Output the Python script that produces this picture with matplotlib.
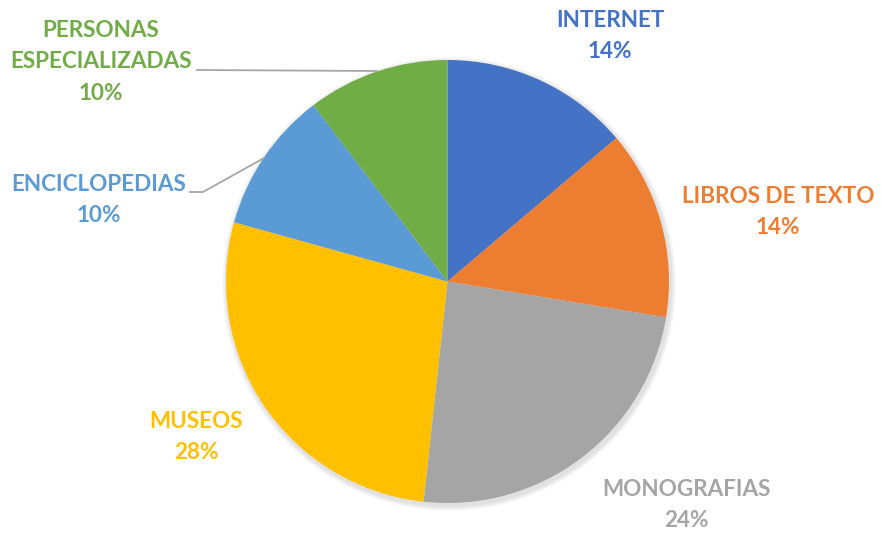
import matplotlib
matplotlib.use("Agg")
import matplotlib.pyplot as plt
from matplotlib.patches import Circle

categories = ["INTERNET", "LIBROS DE TEXTO", "MONOGRAFIAS", "MUSEOS",
              "ENCICLOPEDIAS", "PERSONAS\nESPECIALIZADAS"]
values = [4, 4, 7, 8, 3, 3]
colors = ["#4472C4", "#ED7D31", "#A5A5A5", "#FFC000", "#5B9BD5", "#70AD47"]

W, H = 881, 533
fig = plt.figure(figsize=(W / 100, H / 100), dpi=100)
ax = fig.add_axes([0, 0, 1, 1])

cx, cy, r = 447.5, H - 281.5, 221.5

# soft shadow
for k in range(6):
    ax.add_patch(Circle((cx + 1.5, cy - 2.5), r + 1.5 + k * 0.8,
                        color="black", alpha=0.018, lw=0, zorder=0))

ax.pie(values, colors=colors, startangle=90, counterclock=False,
       center=(cx, cy), radius=r, frame=True,
       wedgeprops=dict(linewidth=0))
ax.set_xlim(0, W)
ax.set_ylim(0, H)
ax.set_aspect("equal")
ax.axis("off")

total = sum(values)
pcts = [round(v / total * 100) for v in values]

# label block centers in pixel coords (x, y from top)
label_pos = [(610, 36), (778, 212), (686, 505), (196, 437), (99, 200), (101, 62)]

for cat, p, col, (lx, ly) in zip(categories, pcts, colors, label_pos):
    ax.text(lx, H - ly, f"{cat}\n{p}%", color=col, fontsize=16.2,
            fontweight="bold", family="Lato", ha="center", va="center",
            linespacing=1.62)

# leader lines
ax.plot([377, 197], [H - 71, H - 70], color="#A6A6A6", lw=1.3)
ax.plot([264, 203, 190], [H - 158, H - 192, H - 192], color="#A6A6A6", lw=1.3)

fig.savefig("out.png", dpi=100)
